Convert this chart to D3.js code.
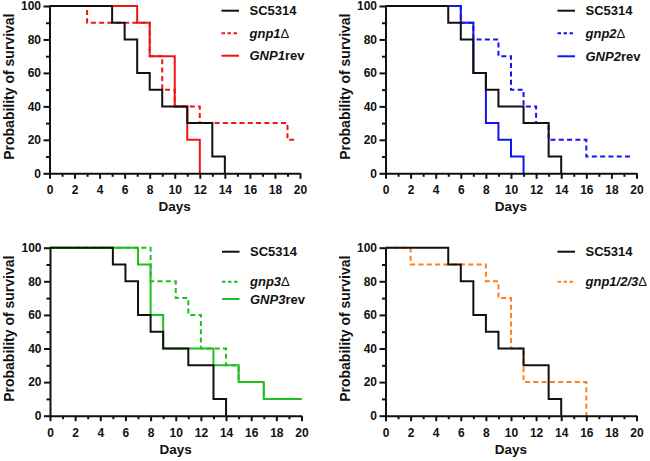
<!DOCTYPE html>
<html>
<head>
<meta charset="utf-8">
<script src="https://cdn.jsdelivr.net/npm/d3@7"></script>
<style>
  html, body { margin: 0; padding: 0; background: #fff; }
  svg { display: block; }
  text { font-family: "Liberation Sans", Arial, sans-serif; fill: #111; }
</style>
</head>
<body>
<svg id="chart" width="650" height="461"></svg>
<script>
// ---------- data ----------
const xTicksMajor = [0, 2, 4, 6, 8, 10, 12, 14, 16, 18, 20];
const xTicksMinor = [1, 3, 5, 7, 9, 11, 13, 15, 17, 19];
const yTicksMajor = [0, 20, 40, 60, 80, 100];
const yTicksMinor = [10, 30, 50, 70, 90];

// survival step data: [day, % survival]
const sc5314 = [[0,100],[5,90],[6,80],[7,60],[8,50],[9,40],[11,30],[13,10],[14,0]];
const gnp1Del = [[0,100],[3,90],[8,70],[9,50],[10,40],[12,30],[19,20],[19.7,20]];
const gnp1Rev = [[0,100],[7,90],[8,70],[10,40],[11,20],[12,0]];
const gnp2Del = [[0,100],[6,90],[7,80],[9,70],[10,50],[11,40],[12,30],[13,20],[16,10],[19.7,10]];
const gnp2Rev = [[0,100],[6,90],[7,60],[8,30],[9,20],[10,10],[11,0]];
const gnp3Del = [[0,100],[8,80],[10,70],[11,60],[12,40],[14,30],[15,20],[17,10],[20,10]];
const gnp3Rev = [[0,100],[7,90],[8,60],[9,40],[13,30],[15,20],[17,10],[20,10]];
const gnp123Del = [[0,100],[2,90],[8,80],[9,70],[10,40],[11,20],[16,0]];

// legend labels: parts [text, italic, weight]
const labelSC = [["SC5314", false, "bold"]];
const labelGnp1 = [["gnp1", true, "bold"], ["\u0394", false, "normal"]];
const labelGNP1 = [["GNP1", true, "bold"], ["rev", false, "bold"]];
const labelGnp2 = [["gnp2", true, "bold"], ["\u0394", false, "normal"]];
const labelGNP2 = [["GNP2", true, "bold"], ["rev", false, "bold"]];
const labelGnp3 = [["gnp3", true, "bold"], ["\u0394", false, "normal"]];
const labelGNP3 = [["GNP3", true, "bold"], ["rev", false, "bold"]];
const labelGnp123 = [["gnp1/2/3", true, "bold"], ["\u0394", false, "normal"]];

const RED = "#f01414", BLUE = "#1414f0", GREEN = "#1fbf1f", ORANGE = "#ff7f1e", BLACK = "#111";

const panels = [
  { left: 49.5, top: 6, width: 250.5, height: 167.3,
    series: [
      { data: gnp1Del, color: RED, dash: true, label: labelGnp1 },
      { data: gnp1Rev, color: RED, dash: false, label: labelGNP1 },
      { data: sc5314, color: BLACK, dash: false, label: labelSC }
    ], legendOrder: [2, 0, 1], legendY: [4.7, 27.3, 49.7] },
  { left: 385.5, top: 6, width: 251, height: 167.3,
    series: [
      { data: gnp2Del, color: BLUE, dash: true, label: labelGnp2 },
      { data: gnp2Rev, color: BLUE, dash: false, label: labelGNP2 },
      { data: sc5314, color: BLACK, dash: false, label: labelSC }
    ], legendOrder: [2, 0, 1], legendY: [4.7, 27.3, 50.3] },
  { left: 50, top: 247.7, width: 251.5, height: 168,
    series: [
      { data: gnp3Del, color: GREEN, dash: true, label: labelGnp3 },
      { data: gnp3Rev, color: GREEN, dash: false, label: labelGNP3 },
      { data: sc5314, color: BLACK, dash: false, label: labelSC }
    ], legendOrder: [2, 0, 1], legendY: [4, 34, 51.3] },
  { left: 385.5, top: 247.7, width: 251, height: 168,
    series: [
      { data: gnp123Del, color: ORANGE, dash: true, label: labelGnp123 },
      { data: sc5314, color: BLACK, dash: false, label: labelSC }
    ], legendOrder: [1, 0], legendY: [4, 34] }
];

const svg = d3.select("#chart");

panels.forEach(p => {
  const g = svg.append("g").attr("transform", `translate(${p.left},${p.top})`);
  const x = d3.scaleLinear().domain([0, 20]).range([0, p.width]);
  const y = d3.scaleLinear().domain([0, 100]).range([p.height, 0]);

  // curves
  const line = d3.line().x(d => x(d[0])).y(d => y(d[1])).curve(d3.curveStepAfter);
  p.series.forEach(s => {
    g.append("path")
      .attr("d", line(s.data))
      .attr("fill", "none")
      .attr("stroke", s.color)
      .attr("stroke-width", 2)
      .attr("stroke-dasharray", s.dash ? "5,3.3" : null);
  });

  // axes
  const styleAxis = sel => {
    sel.selectAll("path.domain").attr("stroke", BLACK).attr("stroke-width", 2);
    sel.selectAll(".tick line").attr("stroke", BLACK).attr("stroke-width", 2);
    sel.selectAll("text")
      .style("font-family", '"Liberation Sans", Arial, sans-serif')
      .style("font-size", "12px").style("font-weight", "bold").attr("fill", "#111");
  };

  const xMinor = g.append("g").attr("transform", `translate(0,${p.height})`)
    .call(d3.axisBottom(x).tickValues(xTicksMinor).tickSize(3.5).tickSizeOuter(0).tickFormat(""));
  styleAxis(xMinor);
  xMinor.select("path.domain").remove();
  const xAx = g.append("g").attr("transform", `translate(0,${p.height})`)
    .call(d3.axisBottom(x).tickValues(xTicksMajor).tickSize(5.5).tickSizeOuter(0).tickPadding(7));
  styleAxis(xAx);

  const yMinor = g.append("g")
    .call(d3.axisLeft(y).tickValues(yTicksMinor).tickSize(3.5).tickSizeOuter(0).tickFormat(""));
  styleAxis(yMinor);
  yMinor.select("path.domain").remove();
  const yAx = g.append("g")
    .call(d3.axisLeft(y).tickValues(yTicksMajor).tickSize(6).tickSizeOuter(0).tickPadding(2.5));
  styleAxis(yAx);

  // axis titles
  g.append("text")
    .attr("x", p.width / 2).attr("y", p.height + 38)
    .attr("text-anchor", "middle")
    .style("font-size", "13.5px").style("font-weight", "bold")
    .text("Days");
  g.append("text")
    .attr("transform", `translate(-36,${p.height / 2 - 3}) rotate(-90)`)
    .attr("text-anchor", "middle")
    .style("font-size", "14px").style("font-weight", "bold")
    .text("Probability of survival");

  // legend
  p.legendOrder.forEach((idx, i) => {
    const s = p.series[idx];
    const ly = p.legendY[i];
    g.append("line")
      .attr("x1", 172).attr("x2", 189.5).attr("y1", ly).attr("y2", ly)
      .attr("stroke", s.color).attr("stroke-width", 2)
      .attr("stroke-dasharray", s.dash ? "3.5,2.5" : null);
    const t = g.append("text").attr("x", 200).attr("y", ly + 4.6)
      .style("font-size", "13px");
    s.label.forEach(part => {
      t.append("tspan")
        .style("font-style", part[1] ? "italic" : "normal")
        .style("font-weight", part[2])
        .text(part[0]);
    });
  });
});
</script>
</body>
</html>
